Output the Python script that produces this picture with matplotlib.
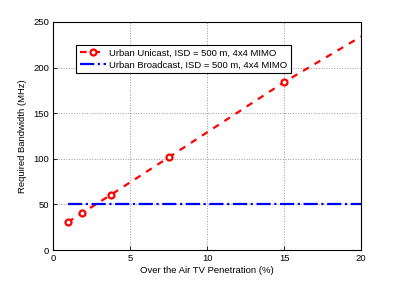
import matplotlib.pyplot as plt

# data
pen_unicast = [0.9375, 1.875, 3.75, 7.5, 15, 20]
bw_unicast = [30.5, 40.5, 60.5, 101.5, 184, 234]
pen_broadcast = [1, 20]
bw_broadcast = [51, 51]

plt.rcParams['font.family'] = ['Liberation Sans', 'DejaVu Sans']
plt.rcParams['font.size'] = 6.8

fig = plt.figure(figsize=(3.99, 2.81), dpi=100)
ax = fig.add_axes([0.133, 0.110, 0.772, 0.812])

ax.plot(pen_unicast, bw_unicast, 'r--', lw=1.6, marker='o', ms=4.3,
        mfc='white', mec='red', mew=1.6, markevery=[0, 1, 2, 3, 4],
        dashes=(3, 3), label='Urban Unicast, ISD = 500 m, 4x4 MIMO')
ax.plot(pen_broadcast, bw_broadcast, 'b-.', lw=1.6,
        label='Urban Broadcast, ISD = 500 m, 4x4 MIMO')

ax.set_xlim(0, 20)
ax.set_ylim(0, 250)
ax.set_xticks([0, 5, 10, 15, 20])
ax.set_yticks([0, 50, 100, 150, 200, 250])
ax.grid(True, ls=':', color='#999999', lw=0.7)
ax.tick_params(direction='in', length=3, width=0.6, pad=3)
for s in ax.spines.values():
    s.set_linewidth(0.8)

ax.set_xlabel('Over the Air TV Penetration (%)', labelpad=2)
ax.set_ylabel('Required Bandwidth (MHz)', labelpad=4)

leg = ax.legend(loc='upper left', bbox_to_anchor=(0.06, 0.92), fancybox=False,
                framealpha=1, edgecolor='black', handlelength=2.7,
                borderpad=0.4, labelspacing=0.3, handletextpad=0.4)
leg.get_frame().set_linewidth(0.8)

plt.savefig('out.png', dpi=100)
